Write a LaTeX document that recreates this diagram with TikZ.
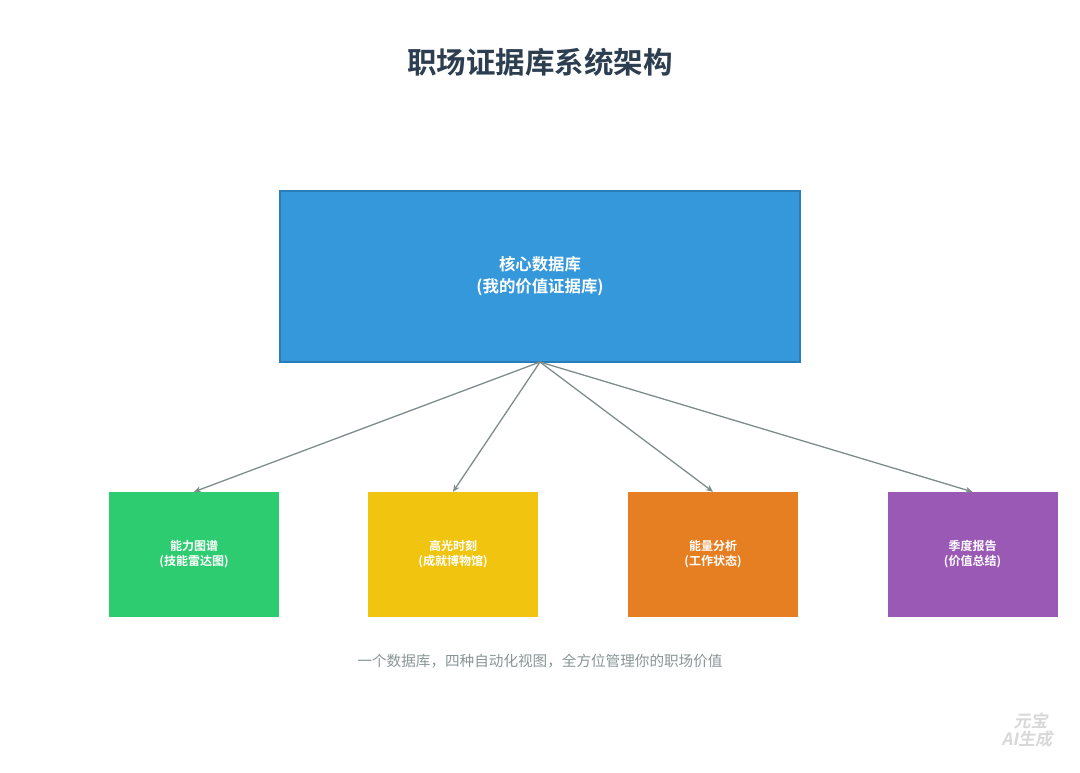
\documentclass[tikz,border=0pt]{standalone}
\usepackage{fontspec}
\newfontfamily\cjk{Noto Sans CJK SC}[BoldFont={Noto Sans CJK SC Bold}]
\usetikzlibrary{arrows.meta}
\definecolor{titlec}{HTML}{2C3E50}
\definecolor{coreblue}{HTML}{3498DB}
\definecolor{coreborder}{HTML}{2B7DBA}
\definecolor{vgreen}{HTML}{2ECC71}
\definecolor{vyellow}{HTML}{F1C40F}
\definecolor{vorange}{HTML}{E67E22}
\definecolor{vpurple}{HTML}{9B59B6}
\definecolor{linkc}{HTML}{7F8C8D}
\definecolor{capc}{HTML}{8A9597}
\definecolor{wmc}{HTML}{D8D8D8}
\tikzset{
  corebox/.style={draw=coreborder, line width=1.5pt, fill=coreblue, minimum width=520pt, minimum height=171pt, inner sep=0pt, text=white, align=center, font=\cjk\bfseries\fontsize{16.4}{22}\selectfont},
  viewbox/.style={draw=none, fill=#1, minimum width=170pt, minimum height=125pt, inner sep=0pt, text=white, align=center, font=\cjk\bfseries\fontsize{12}{15}\selectfont},
  link/.style={draw=linkc, line width=1.3pt, -{Stealth[length=7pt,width=6pt]}},
}
\begin{document}
\begin{tikzpicture}[x=1pt,y=-1pt]
\useasboundingbox[fill=white] (0,0) rectangle (1080,772);
\node[font=\cjk\bfseries\fontsize{29.5}{32}\selectfont, text=titlec] (title) at (540,62) {职场证据库系统架构};
\node[corebox] (core) at (540,276.5) {核心数据库\\(我的价值证据库)};
\node[viewbox=vgreen] (v1) at (194,554.5) {能力图谱\\(技能雷达图)};
\node[viewbox=vyellow] (v2) at (453,554.5) {高光时刻\\(成就博物馆)};
\node[viewbox=vorange] (v3) at (713,554.5) {能量分析\\(工作状态)};
\node[viewbox=vpurple] (v4) at (972.5,554.5) {季度报告\\(价值总结)};
\coordinate (hub) at (540,362);
\draw[link] (hub) -- (v1.north);
\draw[link] (hub) -- (v2.north);
\draw[link] (hub) -- (v3.north);
\draw[link] (hub) -- (v4.north);
\node[font=\cjk\fontsize{14.6}{18}\selectfont, text=capc] (caption) at (540,661) {一个数据库，四种自动化视图，全方位管理你的职场价值};
\node[font=\cjk\bfseries\fontsize{17}{18}\selectfont, text=wmc, align=center, inner sep=0pt, xslant=0.2] (wm) at (1030,730) {元宝\\AI生成};
\end{tikzpicture}
\end{document}
